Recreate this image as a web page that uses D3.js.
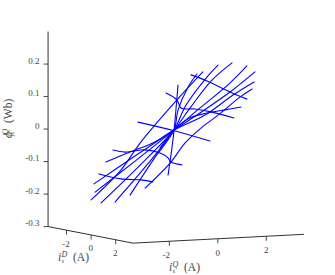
<!DOCTYPE html>
<html>
<head>
<meta charset="utf-8">
<script src="https://cdnjs.cloudflare.com/ajax/libs/d3/7.8.5/d3.min.js"></script>
<style>
html, body { margin: 0; padding: 0; background: #fff; }
svg { display: block; }
text { font-family: "Liberation Serif", serif; fill: #444; }
</style>
</head>
<body>
<div id="chart"></div>
<script>
// Curves at constant i_s^D: one iQ list and one phi list per level
const iDLevels = [-3, -2.4, -1.8, -1.2, -0.6, 0, 0.6, 1.2, 1.8, 2.4];
const iQAlongD = [
    [-1.98, -0.75, 0.04, 1.56, 2.63],
    [-2.12, -0.47, 1.13, 2.0, 3.44, 4.14],
    [-2.47, -0.78, 0.83, 1.9, 3.14, 4.17],
    [-2.48, -0.87, 0.53, 1.19, 2.09, 2.92],
    [-2.21, -0.93, 0.22, 0.72, 1.58, 2.04],
    [-2.89, -1.9, -0.87, -0.08, 1.2, 2.35, 3.22],
    [-2.2, -1.25, -0.39, -0.22, 0.19, 0.56],
    [-1.27, -0.69, -0.03, 0.67, 1.41, 2.07],
    [-1.24, -1.12, -0.99, -0.91, -0.83],
    [-2.49, -1.46, -0.85, -0.19, 0.52, 1.42, 1.92]
];
const phiAlongD = [
    [-0.22, -0.133, -0.053, 0.074, 0.156],
    [-0.191, -0.102, -0.013, 0.039, 0.123, 0.173],
    [-0.16, -0.081, -0.007, 0.041, 0.101, 0.159],
    [-0.214, -0.104, -0.001, 0.064, 0.146, 0.196],
    [-0.208, -0.102, 0.004, 0.079, 0.162, 0.197],
    [-0.078, -0.051, -0.024, 0.01, 0.051, 0.108, 0.145],
    [-0.178, -0.074, 0.015, 0.076, 0.145, 0.184],
    [-0.032, 0.021, 0.056, 0.068, 0.075, 0.081],
    [-0.111, -0.05, 0.027, 0.094, 0.164],
    [-0.142, -0.069, -0.01, 0.034, 0.071, 0.123, 0.146]
];

// Curves at constant i_s^Q
const iQLevels = [-2, -1.2, 0, 1, 1.8];
const iDAlongQ = [
    [-2.32, -0.53, 1.1, 2.07],
    [-2.76, -1.78, -0.15, 1.07, 1.72, 1.96, 2.85],
    [-3.09, -0.08, 2.76],
    [-2.78, -1.89, -1.57, -0.43, 0.87, 2.74],
    [-2.33, -1.03, 0.84, 2.22]
];
const phiAlongQ = [
    [-0.135, -0.137, -0.128, -0.127],
    [-0.068, -0.067, -0.048, -0.049, -0.059, -0.07, -0.072],
    [0.011, 0.006, -0.004],
    [0.099, 0.084, 0.062, 0.067, 0.068, 0.063],
    [0.155, 0.146, 0.126, 0.114]
];

const iDTicks = [-2, 0, 2];
const iQTicks = [-2, 0, 2];
const phiTicks = [-0.3, -0.2, -0.1, 0, 0.1, 0.2];
const iDRange = [-3.5, 3.4];
const iQRange = [-3.5, 3.55];
const phiRange = [-0.3, 0.3];

let width = 335, height = 275;

// Oblique projection, each axis gets its own pair of screen scales
let dX = d3.scaleLinear().domain([0, 1]).range([0, 12.3]);
let dY = d3.scaleLinear().domain([0, 1]).range([0, 2.4]);
let qX = d3.scaleLinear().domain([0, 1]).range([0, 24.25]);
let qY = d3.scaleLinear().domain([0, 1]).range([0, -1.25]);
let phiY = d3.scaleLinear().domain([0, 1]).range([0, -325]);

function px(d, q) { return 176 + dX(d) + qX(q); }
function py(d, q, p) { return 133.1 + dY(d) + qY(q) + phiY(p); }

let svg = d3.select("#chart").append("svg")
    .attr("width", width)
    .attr("height", height);

let line = d3.line()
    .x(function (d) { return px(d[0], d[1]); })
    .y(function (d) { return py(d[0], d[1], d[2]); })
    .curve(d3.curveCatmullRom.alpha(0.5));

// Surface curves
let curves = [];
iDLevels.forEach(function (d, i) {
    curves.push(iQAlongD[i].map(function (q, j) { return [d, q, phiAlongD[i][j]]; }));
});
iQLevels.forEach(function (q, i) {
    curves.push(iDAlongQ[i].map(function (d, j) { return [d, q, phiAlongQ[i][j]]; }));
});

svg.selectAll(".curve")
    .data(curves)
    .enter()
    .append("path")
    .attr("class", "curve")
    .attr("fill", "none")
    .attr("stroke", "#0000ff")
    .attr("stroke-width", 1.1)
    .attr("stroke-linecap", "round")
    .attr("d", line);

// Axis lines
let axisColor = "#333";
let dAxisStart = [px(iDRange[0], iQRange[0]), py(iDRange[0], iQRange[0], phiRange[0])];
let corner = [px(iDRange[1], iQRange[0]), py(iDRange[1], iQRange[0], phiRange[0])];
let qAxisEnd = [px(iDRange[1], iQRange[1]), py(iDRange[1], iQRange[1], phiRange[0])];
let zAxisTop = [dAxisStart[0], dAxisStart[1] + phiY(phiRange[1] - phiRange[0])];

svg.append("path")
    .attr("d", d3.line()([zAxisTop, dAxisStart, corner, qAxisEnd]))
    .attr("fill", "none")
    .attr("stroke", axisColor)
    .attr("stroke-width", 1);

// Ticks and tick labels
function addTick(x1, y1, x2, y2) {
    svg.append("line")
        .attr("x1", x1).attr("y1", y1).attr("x2", x2).attr("y2", y2)
        .attr("stroke", axisColor)
        .attr("stroke-width", 0.9);
}

function addLabel(x, y, str, anchor) {
    svg.append("text")
        .attr("x", x)
        .attr("y", y)
        .attr("font-size", 9)
        .attr("text-anchor", anchor || "middle")
        .text(str);
}

phiTicks.forEach(function (p) {
    let y = py(iDRange[0], iQRange[0], p);
    let x = dAxisStart[0];
    addTick(x - 4.5, y, x, y);
    addLabel(39.5, y - 0.5, String(p), "end");
});

iDTicks.forEach(function (d) {
    let x = px(d, iQRange[0]);
    let y = py(d, iQRange[0], phiRange[0]);
    addTick(x, y, x, y + 4.5);
    addLabel(x - 0.5, y + 16.5, String(d));
});

iQTicks.forEach(function (q) {
    let x = px(iDRange[1], q);
    let y = py(iDRange[1], q, phiRange[0]);
    addTick(x, y, x, y + 4.5);
    addLabel(q < 0 ? x - 3 : x, y + 17, String(q));
});

// Axis titles with stacked sub and superscripts
function mathLabel(g, base, sup, sub, rest) {
    g.append("text").attr("x", 0).attr("y", 0)
        .attr("font-size", 11.5).attr("font-style", "italic").text(base);
    g.append("text").attr("x", 3.6).attr("y", -4.5)
        .attr("font-size", 8).attr("font-style", "italic").text(sup);
    g.append("text").attr("x", 3.6).attr("y", 2)
        .attr("font-size", 6.5).attr("font-style", "italic").text(sub);
    g.append("text").attr("x", 15).attr("y", 0)
        .attr("font-size", 11.5).text(rest);
}

mathLabel(svg.append("g").attr("transform", "translate(58,261)"), "i", "D", "s", "(A)");
mathLabel(svg.append("g").attr("transform", "translate(169,271)"), "i", "Q", "s", "(A)");
mathLabel(svg.append("g").attr("transform", "translate(12,138) rotate(-90)"), "\u03d5", "Q", "s", "(Wb)");
</script>
</body>
</html>
